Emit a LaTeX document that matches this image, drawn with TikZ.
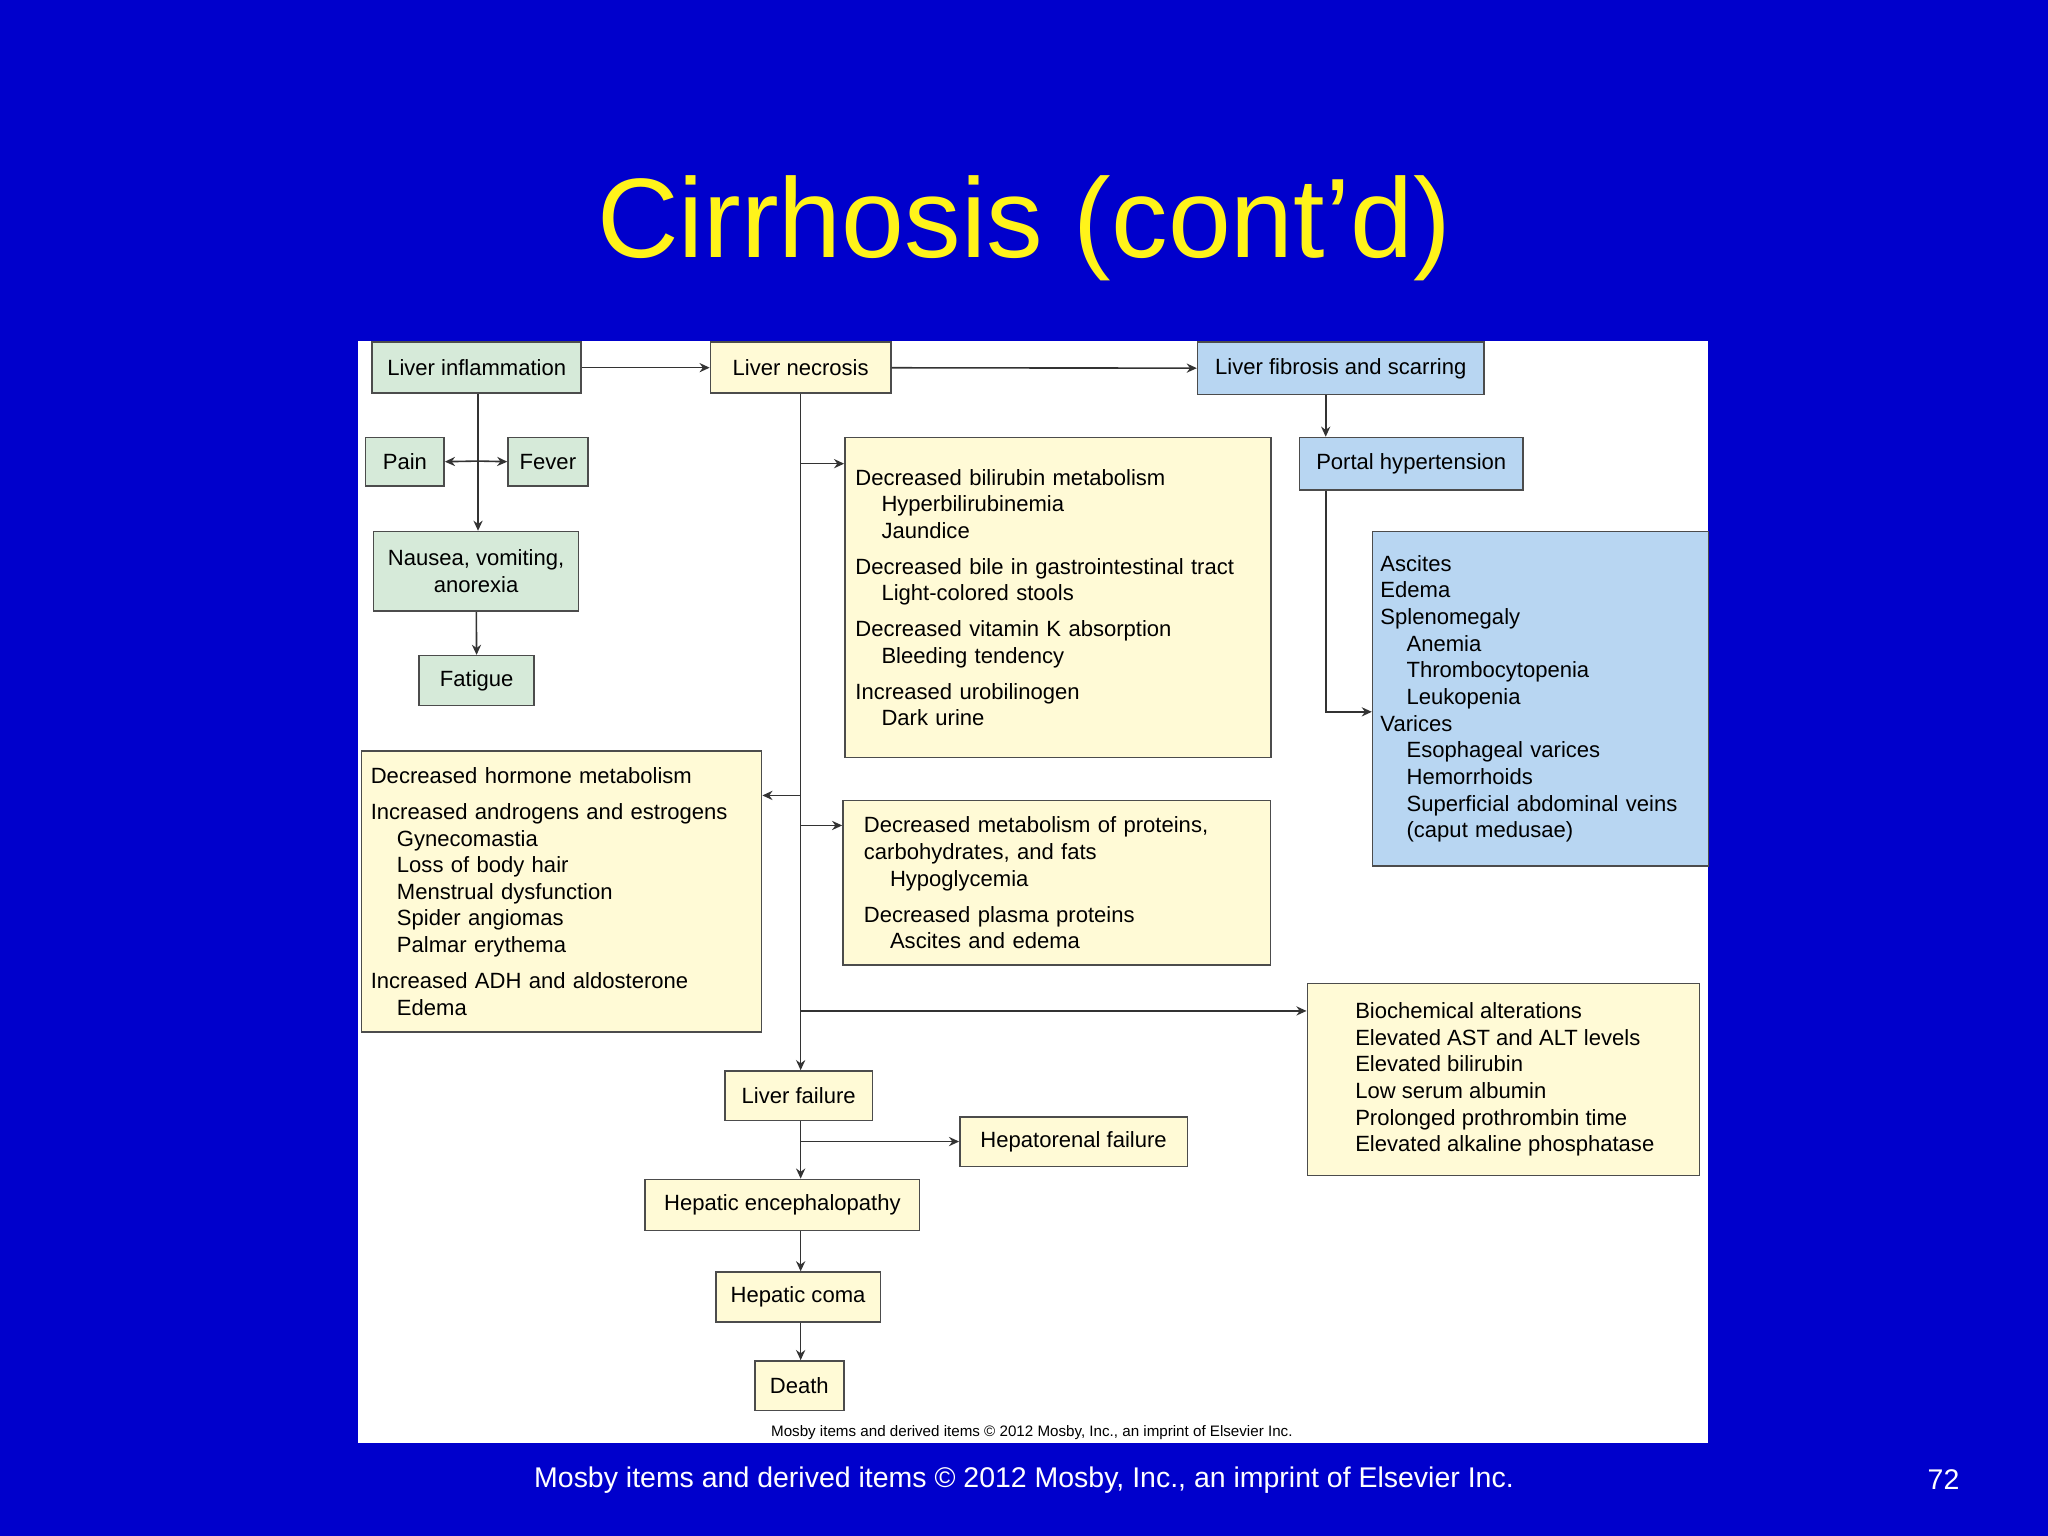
\documentclass[tikz,border=0pt]{standalone}
\usepackage{fontspec}
\setmainfont{Liberation Sans}
\usetikzlibrary{arrows.meta}
\newcommand\myind{\hspace*{0.2cm}}
\definecolor{bg}{HTML}{0000CC}
\definecolor{grn}{HTML}{D6EAD9}
\definecolor{crm}{HTML}{FFFAD6}
\definecolor{blu}{HTML}{B8D6F2}
\begin{document}
\begin{tikzpicture}[x=0.01cm,y=-0.01cm,
 box/.style={draw=black!70,line width=0.35pt,inner sep=0pt,font=\fontsize{4.8}{5.8}\selectfont},
 g/.style={box,fill=grn}, c/.style={box,fill=crm}, b/.style={box,fill=blu},
 ar/.style={-{Stealth[length=2.2pt,width=2pt]},line width=0.35pt,black!80}]
\fill[bg] (0,0) rectangle (1568,1176);
\useasboundingbox (0,0) rectangle (1568,1176);
\fill[white] (274,261) rectangle (1308,1105);
\node[yellow!90!white,font=\fontsize{24.6}{28}\selectfont] (title) at (784,175) {Cirrhosis (cont’d)};
\node[g,minimum width=1.6cm,minimum height=0.39cm] (infl) at (365,281.5) {Liver inflammation};
\node[c,minimum width=1.38cm,minimum height=0.39cm] (necr) at (613,281.5) {Liver necrosis};
\node[b,minimum width=2.19cm,minimum height=0.40cm] (fibr) at (1026.5,282) {Liver fibrosis and scarring};
\node[g,minimum width=0.6cm,minimum height=0.37cm] (pain) at (310,353.5) {Pain};
\node[g,minimum width=0.61cm,minimum height=0.37cm] (fever) at (419.5,353.5) {Fever};
\node[g,minimum width=1.57cm,minimum height=0.61cm,align=center] (naus) at (364.5,437.5) {Nausea, vomiting,\\anorexia};
\node[g,minimum width=0.88cm,minimum height=0.38cm] (fat) at (365,521) {Fatigue};
\node[b,minimum width=1.71cm,minimum height=0.40cm] (port) at (1080.5,355) {Portal hypertension};
\node[c,minimum width=1.13cm,minimum height=0.38cm] (fail) at (611.5,839) {Liver failure};
\node[c,minimum width=1.74cm,minimum height=0.38cm] (hren) at (822,874) {Hepatorenal failure};
\node[c,minimum width=2.10cm,minimum height=0.39cm] (ence) at (599,922.5) {Hepatic encephalopathy};
\node[c,minimum width=1.26cm,minimum height=0.38cm] (coma) at (611,993) {Hepatic coma};
\node[c,minimum width=0.68cm,minimum height=0.38cm] (death) at (612,1061) {Death};
\node[c,minimum width=3.26cm,minimum height=2.45cm,text width=3.10cm,align=left] (bili) at (810,457.5) {Decreased bilirubin metabolism\\\myind Hyperbilirubinemia\\\myind Jaundice\\[2pt]Decreased bile in gastrointestinal tract\\\myind Light-colored stools\\[2pt]Decreased vitamin K absorption\\\myind Bleeding tendency\\[2pt]Increased urobilinogen\\\myind Dark urine};
\node[b,minimum width=2.57cm,minimum height=2.56cm,text width=2.45cm,align=left] (asc) at (1179.5,535) {Ascites\\Edema\\Splenomegaly\\\myind Anemia\\\myind Thrombocytopenia\\\myind Leukopenia\\Varices\\\myind Esophageal varices\\\myind Hemorrhoids\\\myind Superficial abdominal veins\\\myind (caput medusae)};
\node[c,minimum width=3.06cm,minimum height=2.15cm,text width=2.92cm,align=left] (horm) at (430,682.5) {Decreased hormone metabolism\\[2pt]Increased androgens and estrogens\\\myind Gynecomastia\\\myind Loss of body hair\\\myind Menstrual dysfunction\\\myind Spider angiomas\\\myind Palmar erythema\\[2pt]Increased ADH and aldosterone\\\myind Edema};
\node[c,minimum width=3.27cm,minimum height=1.26cm,text width=2.95cm,align=left] (prot) at (809,676) {Decreased metabolism of proteins,\\carbohydrates, and fats\\\myind Hypoglycemia\\[2pt]Decreased plasma proteins\\\myind Ascites and edema};
\node[c,minimum width=3.00cm,minimum height=1.47cm] (bio) at (1151,826.5) {};
\node[box,draw=none,anchor=west,align=left] (biot) at (1037,826.5) {Biochemical alterations\\Elevated AST and ALT levels\\Elevated bilirubin\\Low serum albumin\\Prolonged prothrombin time\\Elevated alkaline phosphatase};
\coordinate (t1) at (613,355); \coordinate (t2) at (613,609);
\coordinate (t3) at (613,632); \coordinate (t4) at (613,774);
\coordinate (i1) at (366,353); \coordinate (p1) at (1015,545);
\coordinate (f1) at (613,874);
\draw[ar] (infl) -- (necr);
\draw[ar] (necr) -- (fibr);
\draw[ar] (necr.south) -- (necr.south |- fail.north);
\draw[ar] (t1) -- (t1 -| bili.west);
\draw[ar] (t2) -- (t2 -| horm.east);
\draw[ar] (t3) -- (t3 -| prot.west);
\draw[ar] (t4) -- (t4 -| bio.west);
\draw[ar] (infl.south -| i1) -- (i1 |- naus.north);
\draw[ar] (i1) -- (pain.east);
\draw[ar] (i1) -- (fever.west);
\draw[ar] (naus) -- (fat);
\draw[ar] (fibr.south -| p1) -- (p1 |- port.north);
\draw[ar] (port.south -| p1) -- (p1) -- (p1 -| asc.west);
\draw[ar] (fail.south -| f1) -- (f1 |- ence.north);
\draw[ar] (f1) -- (hren.west);
\draw[ar] (ence.south -| f1) -- (f1 |- coma.north);
\draw[ar] (coma.south -| f1) -- (f1 |- death.north);
\node[font=\fontsize{3.3}{4}\selectfont] (cr) at (790,1097) {Mosby items and derived items © 2012 Mosby, Inc., an imprint of Elsevier Inc.};
\node[white,font=\fontsize{6.2}{7}\selectfont] (foot) at (784,1133) {Mosby items and derived items © 2012 Mosby, Inc., an imprint of Elsevier Inc.};
\node[white,font=\fontsize{6.2}{7}\selectfont] (pg) at (1488,1133) {72};
\end{tikzpicture}
\end{document}
